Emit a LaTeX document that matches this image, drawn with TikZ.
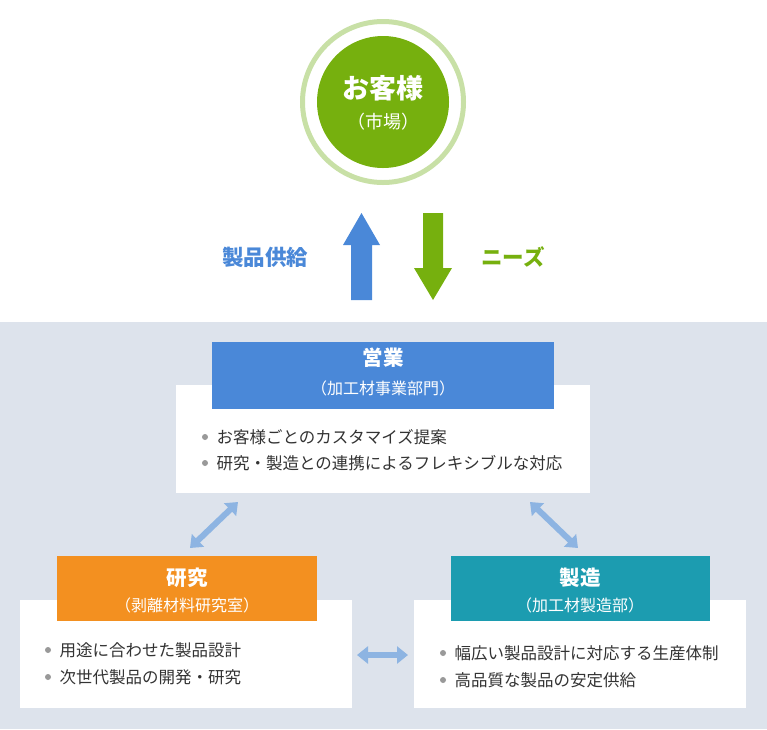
\documentclass[tikz,border=0pt]{standalone}
\usepackage{fontspec}
\setmainfont{Noto Sans CJK JP}
\usetikzlibrary{arrows.meta}
\definecolor{bgc}{HTML}{DDE3EC}
\definecolor{grn}{HTML}{76B00E}
\definecolor{lgrn}{HTML}{C8E0A6}
\definecolor{blu}{HTML}{4A88D8}
\definecolor{org}{HTML}{F39020}
\definecolor{tea}{HTML}{1C9CB0}
\definecolor{dbl}{HTML}{8DB4E2}
\definecolor{txt}{HTML}{333333}
\begin{document}
\begin{tikzpicture}[x=1pt,y=-1pt,
  wbox/.style={fill=white,draw=none},
  hd/.style={text=white,font=\bfseries\fontsize{20.5}{24}\selectfont},
  sub/.style={text=white,font=\fontsize{16}{19}\selectfont},
  bl/.style={anchor=west,text=txt,font=\fontsize{16.5}{19}\selectfont},
  dot/.style={circle,fill=gray!80,inner sep=0,minimum size=6pt},
  dbla/.style={dbl,line width=6pt,{Triangle[length=11pt,width=17pt]}-{Triangle[length=11pt,width=17pt]},shorten <=0pt}]
\useasboundingbox (0,0) rectangle (767,729);
\fill[bgc] (0,322) rectangle (767,729);
% customer
\node[circle,draw=lgrn,line width=5pt,minimum size=161pt,inner sep=0] (ring) at (383,102) {};
\node[circle,fill=grn,minimum size=132pt,inner sep=0] (cust) at (383,102) {};
\node[hd,font=\bfseries\fontsize{27}{30}\selectfont] (ct) at (383,88) {お客様};
\node[sub,font=\fontsize{18}{21}\selectfont] (cs) at (383,122) {（市場）};
% arrows
\fill[blu] (351,300) -- (351,245) -- (343,245) -- (361.5,213) -- (380,245) -- (372,245) -- (372,300) -- cycle;
\fill[grn] (423,213) -- (423,268) -- (414,268) -- (433,300) -- (452,268) -- (443,268) -- (443,213) -- cycle;
\node[text=blu,font=\bfseries\fontsize{21.5}{24}\selectfont] (sup) at (265,257) {製品供給};
\node[text=grn,font=\bfseries\fontsize{21.5}{24}\selectfont] (nd) at (513,257) {ニーズ};
% sales
\fill[wbox] (176,385) rectangle (590,493);
\fill[blu] (212,342) rectangle (554,409);
\node[hd] (s1) at (383,358) {営業};
\node[sub] (s2) at (383,388) {（加工材事業部門）};
\node[dot] at (205,437) {}; \node[bl] at (213,437) {お客様ごとのカスタマイズ提案};
\node[dot] at (205,463) {}; \node[bl] at (213,463) {研究・製造との連携によるフレキシブルな対応};
% research
\fill[wbox] (20,600) rectangle (352,708);
\fill[org] (57,556) rectangle (317,621);
\node[hd] (r1) at (187,578) {研究};
\node[sub] (r2) at (187,605) {（剥離材料研究室）};
\node[dot] at (48,650) {}; \node[bl] at (56,650) {用途に合わせた製品設計};
\node[dot] at (48,677) {}; \node[bl] at (56,677) {次世代製品の開発・研究};
% manufacturing
\fill[wbox] (414,600) rectangle (746,708);
\fill[tea] (451,556) rectangle (710,621);
\node[hd] (m1) at (580,578) {製造};
\node[sub] (m2) at (580,605) {（加工材製造部）};
\node[dot] at (443,653) {}; \node[bl] at (451,653) {幅広い製品設計に対応する生産体制};
\node[dot] at (443,680) {}; \node[bl] at (451,680) {高品質な製品の安定供給};
% double arrows
\coordinate (a1) at (190,548); \coordinate (a2) at (238,502);
\coordinate (b1) at (530,502); \coordinate (b2) at (578,548);
\coordinate (c1) at (357,655); \coordinate (c2) at (408,655);
\draw[dbla] (a1) -- (a2);
\draw[dbla] (b1) -- (b2);
\draw[dbla] (c1) -- (c2);
\end{tikzpicture}
\end{document}
